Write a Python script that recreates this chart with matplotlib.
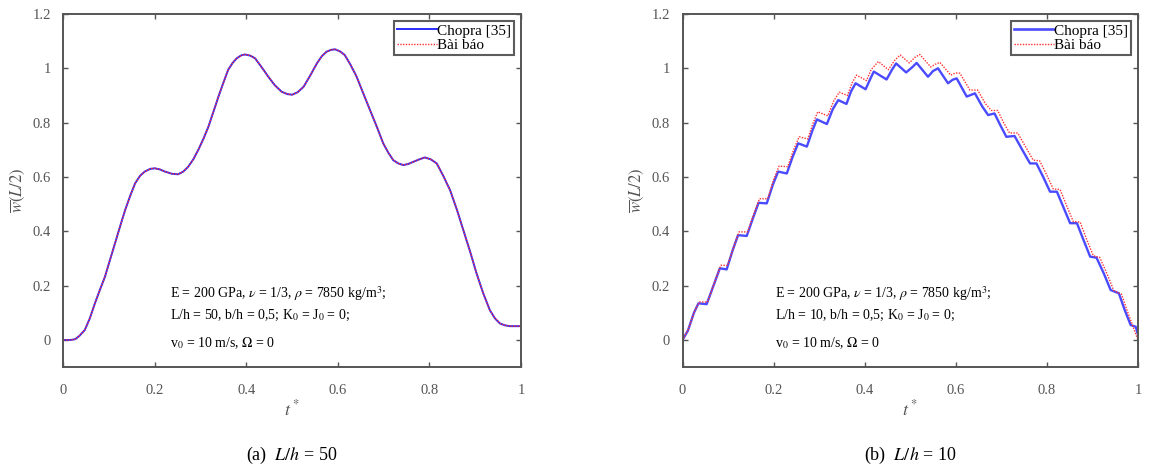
import matplotlib
matplotlib.use("Agg")
import matplotlib.pyplot as plt
from matplotlib.lines import Line2D

plt.rcParams['font.family'] = ['Liberation Serif', 'DejaVu Serif']
plt.rcParams['mathtext.fontset'] = 'stix'

# ---------------- data: panel (a) L/h = 50 ----------------
t_a = [0.000, 0.015, 0.026, 0.035, 0.047, 0.058, 0.069, 0.080, 0.091, 0.102,
       0.113, 0.124, 0.135, 0.146, 0.157, 0.168, 0.178, 0.190, 0.200, 0.211,
       0.222, 0.237, 0.251, 0.262, 0.273, 0.284, 0.295, 0.306, 0.317, 0.328,
       0.339, 0.350, 0.360, 0.370, 0.379, 0.389, 0.397, 0.408, 0.419, 0.433,
       0.448, 0.462, 0.477, 0.490, 0.500, 0.512, 0.525, 0.540, 0.554, 0.565,
       0.575, 0.585, 0.594, 0.605, 0.615, 0.628, 0.641, 0.655, 0.670, 0.685,
       0.699, 0.710, 0.721, 0.732, 0.743, 0.754, 0.765, 0.778, 0.790, 0.803,
       0.816, 0.830, 0.845, 0.860, 0.874, 0.889, 0.903, 0.918, 0.932, 0.943,
       0.954, 0.965, 0.976, 1.000]
chopra_a = [0.000, 0.000, 0.003, 0.015, 0.037, 0.080, 0.135, 0.185, 0.233, 0.295,
            0.356, 0.418, 0.478, 0.530, 0.577, 0.605, 0.620, 0.630, 0.632, 0.628,
            0.620, 0.612, 0.610, 0.620, 0.638, 0.665, 0.700, 0.740, 0.785, 0.840,
            0.896, 0.948, 0.994, 1.020, 1.037, 1.048, 1.051, 1.047, 1.037, 1.005,
            0.969, 0.938, 0.914, 0.905, 0.903, 0.912, 0.932, 0.975, 1.018, 1.045,
            1.061, 1.068, 1.070, 1.062, 1.049, 1.012, 0.969, 0.910, 0.847, 0.785,
            0.724, 0.690, 0.662, 0.650, 0.644, 0.648, 0.656, 0.665, 0.672, 0.665,
            0.650, 0.605, 0.552, 0.480, 0.405, 0.325, 0.245, 0.170, 0.110, 0.080,
            0.061, 0.054, 0.051, 0.051]
baibao_a = [0.000, 0.000, 0.003, 0.015, 0.037, 0.080, 0.135, 0.185, 0.233, 0.295,
            0.356, 0.418, 0.478, 0.530, 0.577, 0.605, 0.620, 0.630, 0.632, 0.628,
            0.620, 0.612, 0.610, 0.620, 0.638, 0.665, 0.700, 0.740, 0.785, 0.840,
            0.896, 0.948, 0.994, 1.020, 1.037, 1.048, 1.051, 1.047, 1.037, 1.005,
            0.969, 0.938, 0.914, 0.905, 0.903, 0.912, 0.932, 0.975, 1.018, 1.045,
            1.061, 1.068, 1.070, 1.062, 1.049, 1.012, 0.969, 0.910, 0.847, 0.785,
            0.724, 0.690, 0.662, 0.650, 0.644, 0.648, 0.656, 0.665, 0.672, 0.665,
            0.650, 0.605, 0.552, 0.480, 0.405, 0.325, 0.245, 0.170, 0.110, 0.080,
            0.061, 0.054, 0.051, 0.051]

# ---------------- data: panel (b) L/h = 10 ----------------
t_chopra_b = [0.000, 0.012, 0.025, 0.035, 0.053, 0.068, 0.082, 0.097, 0.110, 0.122,
              0.141, 0.155, 0.167, 0.185, 0.198, 0.210, 0.229, 0.242, 0.254, 0.273,
              0.285, 0.295, 0.317, 0.330, 0.342, 0.360, 0.370, 0.380, 0.402, 0.412,
              0.420, 0.448, 0.460, 0.469, 0.491, 0.505, 0.514, 0.539, 0.550, 0.561,
              0.583, 0.593, 0.602, 0.624, 0.642, 0.658, 0.671, 0.685, 0.698, 0.711,
              0.729, 0.746, 0.763, 0.777, 0.792, 0.807, 0.822, 0.836, 0.851, 0.866,
              0.880, 0.895, 0.909, 0.925, 0.940, 0.958, 0.971, 0.984, 0.995, 1.000]
chopra_b = [0.000, 0.035, 0.100, 0.135, 0.132, 0.200, 0.264, 0.260, 0.330, 0.386,
            0.383, 0.450, 0.505, 0.503, 0.570, 0.620, 0.613, 0.675, 0.724, 0.712,
            0.770, 0.812, 0.795, 0.850, 0.883, 0.869, 0.915, 0.945, 0.923, 0.960,
            0.988, 0.959, 0.995, 1.018, 0.985, 1.005, 1.020, 0.969, 0.990, 1.000,
            0.945, 0.958, 0.963, 0.896, 0.908, 0.860, 0.828, 0.834, 0.790, 0.748,
            0.751, 0.700, 0.650, 0.650, 0.600, 0.546, 0.546, 0.490, 0.430, 0.430,
            0.370, 0.307, 0.303, 0.245, 0.184, 0.172, 0.110, 0.055, 0.049, 0.020]
t_baibao_b = [0.000, 0.013, 0.026, 0.037, 0.055, 0.070, 0.084, 0.099, 0.112, 0.124,
              0.143, 0.157, 0.169, 0.187, 0.200, 0.212, 0.231, 0.244, 0.256, 0.275,
              0.287, 0.297, 0.319, 0.332, 0.344, 0.362, 0.372, 0.382, 0.404, 0.414,
              0.430, 0.452, 0.466, 0.478, 0.498, 0.510, 0.521, 0.545, 0.555, 0.565,
              0.589, 0.599, 0.609, 0.631, 0.648, 0.665, 0.678, 0.692, 0.705, 0.718,
              0.736, 0.753, 0.770, 0.784, 0.799, 0.814, 0.829, 0.843, 0.858, 0.873,
              0.887, 0.902, 0.916, 0.932, 0.947, 0.964, 0.977, 0.990, 1.000]
baibao_b = [0.000, 0.040, 0.105, 0.140, 0.140, 0.210, 0.275, 0.275, 0.340, 0.398,
            0.398, 0.465, 0.520, 0.520, 0.590, 0.640, 0.638, 0.700, 0.748, 0.740,
            0.800, 0.840, 0.825, 0.880, 0.912, 0.900, 0.945, 0.975, 0.955, 0.995,
            1.025, 0.995, 1.030, 1.049, 1.020, 1.040, 1.051, 1.005, 1.015, 1.022,
            0.975, 0.983, 0.982, 0.920, 0.920, 0.870, 0.845, 0.845, 0.800, 0.762,
            0.762, 0.712, 0.662, 0.660, 0.610, 0.556, 0.554, 0.496, 0.436, 0.434,
            0.372, 0.310, 0.304, 0.244, 0.182, 0.168, 0.105, 0.045, 0.000]

xticks = [0, 0.2, 0.4, 0.6, 0.8, 1]
xticklabels = ['0', '0.2', '0.4', '0.6', '0.8', '1']
yticks = [0, 0.2, 0.4, 0.6, 0.8, 1, 1.2]
yticklabels = ['0', '0.2', '0.4', '0.6', '0.8', '1', '1.2']
legend_labels = ['Chopra [35]', 'Bài báo']
captions = ['(a)  $L/h$ = 50', '(b)  $L/h$ = 10']
annot_a = ['E = 200 GPa, $\\nu$ = 1/3, $\\rho$ = 7850 kg/m$^3$;',
           'L/h = 50, b/h = 0,5; K$_0$ = J$_0$ = 0;',
           'v$_0$ = 10 m/s, $\\Omega$ = 0']
annot_b = ['E = 200 GPa, $\\nu$ = 1/3, $\\rho$ = 7850 kg/m$^3$;',
           'L/h = 10, b/h = 0,5; K$_0$ = J$_0$ = 0;',
           'v$_0$ = 10 m/s, $\\Omega$ = 0']

fig = plt.figure(figsize=(11.49, 4.73), dpi=100)
ax1 = fig.add_axes([0.0551, 0.2237, 0.3983, 0.7467])
ax2 = fig.add_axes([0.5940, 0.2237, 0.3964, 0.7467])

spine_col = '#555555'
ax1.plot(t_a, chopra_a, color='#2b2bff', lw=1.4, solid_joinstyle='round')
ax1.plot(t_a, baibao_a, color='#ff3030', lw=1.0, ls=(0, (1, 1)))
ax2.plot(t_chopra_b, chopra_b, color='#4a4aff', lw=1.7, solid_joinstyle='round')
ax2.plot(t_baibao_b, baibao_b, color='#ff3030', lw=1.0, ls=(0, (1, 1)))

handles_a = [Line2D([], [], color='#2b2bff', lw=1.4),
             Line2D([], [], color='#ff3030', lw=1.0, ls=(0, (1, 1)))]
handles_b = [Line2D([], [], color='#4a4aff', lw=1.9),
             Line2D([], [], color='#ff3030', lw=1.0, ls=(0, (1, 1)))]

for ax, annot, handles, cap in [(ax1, annot_a, handles_a, captions[0]),
                                (ax2, annot_b, handles_b, captions[1])]:
    ax.set_xlim(0, 1)
    ax.set_ylim(-0.1, 1.2)
    ax.set_xticks(xticks)
    ax.set_xticklabels(xticklabels)
    ax.set_yticks(yticks)
    ax.set_yticklabels(yticklabels)
    ax.tick_params(direction='in', top=True, right=True, length=3.5, width=1.0,
                   colors=spine_col, labelsize=10.5)
    ax.tick_params(axis='x', pad=12)
    ax.tick_params(axis='y', pad=9)
    for s in ax.spines.values():
        s.set_color(spine_col)
        s.set_linewidth(1.4)
    ax.set_xlabel('$t^*$', fontsize=13, color=spine_col, labelpad=2)
    ax.set_ylabel('$\\overline{w}(L/2)$', fontsize=12, color=spine_col, labelpad=4)
    leg = ax.legend(handles, legend_labels, loc='upper right', fontsize=11,
                    frameon=True, fancybox=False, handlelength=2.6,
                    handletextpad=0.0, borderpad=0.2, labelspacing=0.05,
                    borderaxespad=0.45)
    leg.get_frame().set_edgecolor('#333333')
    leg.get_frame().set_linewidth(1.5)
    x0 = 0.233 if ax is ax1 else 0.203
    for i, line in enumerate(annot):
        ax.text(x0, [0.172, 0.092, -0.01][i], line, fontsize=10, va='center',
                ha='left', color='black')
    bb = ax.get_position()
    fig.text(bb.x0 + bb.width / 2, 0.038, cap, ha='center', va='center',
             fontsize=13, color='black')

fig.savefig('out.png', dpi=100)
